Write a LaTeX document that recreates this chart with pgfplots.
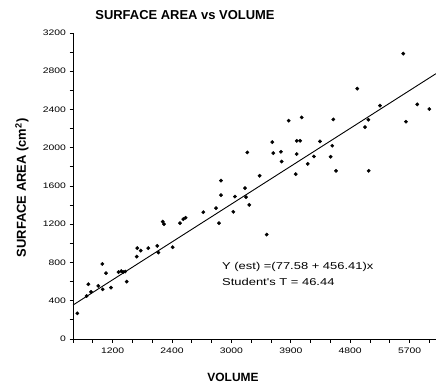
\documentclass[border=0pt]{standalone}
\usepackage{fontspec}
\setmainfont{Liberation Sans}
\newfontfamily\tickfont{Liberation Sans}[FakeStretch=1.3]
\usepackage{pgfplots}
\pgfplotsset{compat=1.18}
\usepackage{pgfplotstable}

\pgfplotstableread{
vol area
665 269
807 450
832 573
873 492
983 555
1044 785
1050 520
1100 688
1176 537
1290 700
1330 710
1360 700
1390 705
1413 600
1565 862
1574 950
1626 925
1741 950
1877 974
1893 904
1959 1228
1979 1201
2110 960
2221 1211
2271 1253
2305 1268
2574 1326
2767 1368
2812 1211
2842 1657
2842 1504
3029 1330
3054 1490
3206 1578
3221 1484
3271 1403
3241 1951
3428 1707
3534 1092
3620 2059
3635 1944
3751 1958
3762 1856
3868 2283
3990 2073
4040 2073
3989 1934
3974 1724
4065 2317
4156 1832
4251 1909
4342 2066
4528 2021
4504 1906
4544 2296
4585 1759
4907 2618
5024 2216
5074 2293
5080 1759
5251 2440
5604 2984
5645 2272
5816 2453
5998 2405
}\pts

\begin{document}
\begin{tikzpicture}[x=1bp,y=1bp]
\useasboundingbox (0,0) rectangle (436,386);
\begin{axis}[
  at={(73bp,47bp)}, anchor=south west,
  width=363bp, height=306bp, scale only axis,
  xmin=600, xmax=6100, ymin=0, ymax=3200,
  axis x line*=bottom, axis y line*=left,
  xtick={1200,2100,3000,3900,4800,5700},
  xticklabels={1200,2400,3000,3900,4800,5700},
  minor xtick={600,900,...,6000},
  ytick={0,400,...,3200},
  minor ytick={200,600,...,3000},
  tick align=outside,
  major tick length=3.5bp, minor tick length=3.5bp,
  tick style={black, line width=0.8bp},
  axis line style={line width=0.8bp},
  /pgf/number format/assume math mode=true,
  /pgf/number format/1000 sep={},
  ticklabel style={font=\tickfont\fontsize{8}{9}\selectfont},
  xticklabel style={yshift=-2bp},
  clip=false,
]
\addplot[black, line width=0.9bp] coordinates {(600,355) (6100,2775)};
\addplot[only marks, mark=*, mark size=1.7bp, black] table[x=vol,y=area]{\pts};
\end{axis}
\node[font=\bfseries\fontsize{13}{15}\selectfont] at (185,371) {SURFACE AREA vs VOLUME};
\node[font=\bfseries\fontsize{12}{14}\selectfont] at (233,9) {VOLUME};
\node[font=\bfseries\fontsize{13}{15}\selectfont, rotate=90] at (22,198) {SURFACE AREA (cm\textsuperscript{2})};
\node[anchor=west, inner sep=0pt, font=\tickfont\fontsize{10}{12}\selectfont] at (222,119) {Y (est) =(77.58 + 456.41)x};
\node[anchor=west, inner sep=0pt, font=\tickfont\fontsize{10}{12}\selectfont] at (222,104) {Student's T = 46.44};
\end{tikzpicture}
\end{document}
